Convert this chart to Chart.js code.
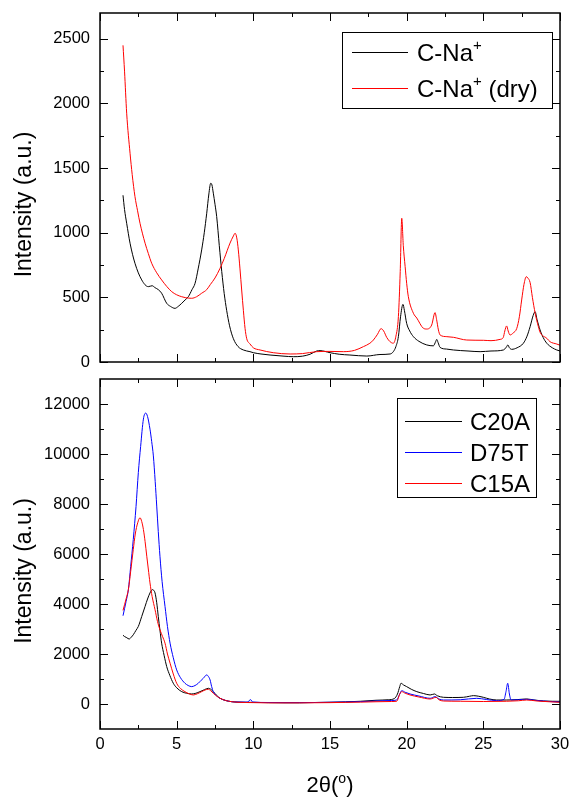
<!DOCTYPE html>
<html><head><meta charset="utf-8">
<script src="https://cdn.jsdelivr.net/npm/chart.js@4/dist/chart.umd.min.js"></script>
<style>
html,body{margin:0;padding:0;background:#fff;}
#wrap{position:relative;width:569px;height:797px;overflow:hidden;}
#c1{position:absolute;left:0;top:0;}
#c2{position:absolute;left:0;top:370px;}
</style></head><body>
<div id="wrap">
<canvas id="c1" width="569" height="370"></canvas>
<canvas id="c2" width="569" height="427"></canvas>
</div>
<script>
// ---------- Data: top panel ----------
const cnaX = [1.5,1.6,1.74,1.96,2.28,2.72,3.15,3.4,3.59,3.8,4.02,4.35,4.6,4.89,5.1,5.33,5.55,5.76,6.0,6.2,6.4,6.63,6.8,6.96,7.1,7.22,7.3,7.39,7.5,7.61,7.78,7.94,8.1,8.26,8.45,8.7,9.0,9.35,9.78,10.0,10.5,11.09,12.0,12.6,13.2,13.7,14.13,14.35,15.0,15.6,16.3,17.4,18.26,18.92,19.13,19.3,19.46,19.6,19.76,19.85,20.0,20.2,20.44,20.8,21.31,21.74,21.9,21.96,22.05,22.18,22.6,23.05,24.0,24.79,25.5,26.31,26.5,26.6,26.7,26.85,27.2,27.61,27.85,28.05,28.25,28.38,28.5,28.7,28.9,29.14,29.5,29.79,30.0];
const cnaY = [1290,1180,1073,919,764,635,583,590,575,560,532,454,430,415,430,454,480,505,560,609,720,867,1000,1151,1300,1383,1370,1306,1220,1125,900,700,530,400,280,180,120,93,80,72,62,54,45,41,45,60,85,88,72,60,54,46,58,62,80,120,196,350,446,400,299,240,196,160,132,125,160,175,150,113,100,93,85,80,85,93,115,132,110,98,110,145,200,273,360,389,330,248,190,145,110,93,85];
const cnaDryX = [1.5,1.6,1.74,1.96,2.1,2.28,2.45,2.61,2.94,3.15,3.37,3.7,4.02,4.35,4.68,5.0,5.33,5.6,5.98,6.3,6.63,6.96,7.2,7.5,7.83,8.1,8.48,8.7,8.81,8.92,9.02,9.13,9.24,9.35,9.46,9.57,9.78,10.0,10.44,11.3,12.4,13.2,14.13,15.0,15.87,16.6,17.18,17.6,17.83,18.1,18.33,18.5,18.7,18.92,19.13,19.3,19.46,19.58,19.68,19.78,19.9,20.0,20.11,20.44,20.66,21.09,21.31,21.63,21.85,21.95,22.07,22.18,22.62,23.05,23.92,25.0,25.5,26.09,26.3,26.4,26.52,26.62,26.74,26.95,27.18,27.35,27.5,27.65,27.8,27.9,28.05,28.2,28.38,28.59,28.7,29.14,29.35,29.79,30.0];
const cnaDryY = [2450,2250,1925,1615,1450,1280,1170,1073,919,840,764,690,635,585,544,520,505,497,493,505,532,560,600,650,725,800,920,975,996,960,867,720,557,400,260,180,140,110,93,72,62,65,80,82,80,90,119,145,170,215,258,240,190,157,145,200,351,700,1112,900,738,609,505,377,340,261,255,286,382,330,248,209,196,191,170,168,165,175,190,240,279,240,209,225,260,350,480,600,660,650,615,500,377,273,230,183,157,139,130];

// ---------- Data: bottom panel ----------
const c20aX = [1.5,1.6,1.75,1.9,2.05,2.17,2.35,2.5,2.72,2.94,3.1,3.26,3.41,3.5,3.59,3.7,3.8,3.91,4.02,4.18,4.35,4.55,4.78,5.0,5.33,5.65,5.98,6.25,6.52,6.8,7.07,7.2,7.39,7.6,7.83,8.2,8.59,9.0,10,11,12,13,14,15,16,17,18,18.8,19.2,19.4,19.55,19.63,19.8,20.0,20.3,20.66,21.1,21.53,21.81,22.0,22.4,23.0,23.7,24.1,24.35,24.7,25.0,25.4,25.87,26.52,27.2,27.83,28.3,28.92,29.5,30.0];
const c20aY = [2750,2700,2650,2600,2680,2769,2950,3103,3500,3905,4200,4442,4575,4550,4442,4050,3503,2950,2434,1950,1497,1150,830,650,494,430,401,430,494,570,629,600,494,350,228,140,92,75,65,55,50,50,60,70,85,110,150,170,220,400,700,830,760,695,590,494,420,361,401,330,268,260,268,310,334,310,268,200,160,160,175,201,160,120,110,107];
const d75tX = [1.5,1.7,1.85,2.0,2.17,2.35,2.5,2.65,2.83,2.98,3.1,3.26,3.37,3.48,3.6,3.7,3.8,3.91,4.05,4.24,4.4,4.57,4.78,5.0,5.25,5.54,5.75,5.98,6.2,6.41,6.6,6.74,6.96,7.07,7.18,7.28,7.39,7.6,7.83,8.2,8.59,9.0,9.6,9.83,9.95,11,12,13,14,15,16,17,18,19.0,19.35,19.55,19.68,19.9,20.22,20.8,21.53,21.85,22.1,22.4,23.5,24.57,25.2,25.87,26.35,26.48,26.59,26.7,26.81,27.3,27.83,28.5,29.3,30.0];
const d75tY = [3531,4100,4575,5500,6581,7900,9258,10300,11396,11637,11500,10995,10500,9923,8900,7917,6900,5911,4900,3904,3100,2434,1850,1364,1050,830,740,695,740,830,950,1030,1164,1100,963,700,494,330,228,140,92,80,75,173,80,60,55,55,60,70,80,95,120,140,160,400,535,470,401,320,228,294,200,160,170,228,180,134,187,500,830,400,160,170,187,140,100,80];
const c15aX = [1.5,1.7,1.85,2.0,2.17,2.3,2.46,2.61,2.72,2.83,2.94,3.05,3.15,3.26,3.4,3.59,3.75,3.91,4.08,4.24,4.4,4.57,4.78,5.0,5.25,5.54,5.8,6.09,6.35,6.63,6.85,7.07,7.22,7.39,7.6,7.83,8.2,8.59,9,10,11,12,13,14,15,16,17,18,19.0,19.35,19.55,19.68,19.9,20.22,20.8,21.53,21.92,22.1,22.4,23.5,25,26.5,27.3,27.83,28.5,29.3,30.0];
const c15aY = [3745,4200,4575,5300,6180,6800,7250,7450,7300,6982,6500,5911,5400,4843,4300,3772,3300,2970,2700,2434,2000,1633,1200,830,620,494,410,361,410,494,560,589,530,428,320,228,140,92,70,55,45,45,45,50,55,65,75,90,100,110,400,494,430,361,280,200,267,170,120,110,100,110,130,160,120,90,67];

// ---------- Axes / ticks ----------
const xTicks = [0,5,10,15,20,25,30];
const xMinor = [2.5,7.5,12.5,17.5,22.5,27.5];
const yTopTicks = [0,500,1000,1500,2000,2500];
const yTopMinor = [250,750,1250,1750,2250];
const yBotTicks = [0,2000,4000,6000,8000,10000,12000];
const yBotMinor = [1000,3000,5000,7000,9000,11000];

const FONT = '"Liberation Sans", Arial, Helvetica, sans-serif';
const pts = (xs, ys) => xs.map((x, i) => ({x, y: ys[i]}));

function drawRich(ctx, text, x, y, size, align) {
  const parts = [];
  let buf = '';
  for (const ch of text) {
    if (ch === '⁺' || ch === 'ᵒ') {
      if (buf) parts.push({t: buf, sup: false});
      parts.push({t: ch === '⁺' ? '+' : 'o', sup: true});
      buf = '';
    } else buf += ch;
  }
  if (buf) parts.push({t: buf, sup: false});
  const supSize = Math.round(size * 0.62);
  let w = 0;
  for (const p of parts) {
    ctx.font = (p.sup ? supSize : size) + 'px ' + FONT;
    p.w = ctx.measureText(p.t).width;
    w += p.w;
  }
  let cx = align === 'center' ? x - w / 2 : x;
  ctx.textBaseline = 'alphabetic';
  ctx.textAlign = 'left';
  for (const p of parts) {
    ctx.font = (p.sup ? supSize : size) + 'px ' + FONT;
    ctx.fillText(p.t, cx, p.sup ? y - size * 0.42 : y);
    cx += p.w;
  }
}

function decoPlugin(cfg) {
  return {
    id: 'deco',
    afterDraw(chart) {
      const {ctx, chartArea: a, scales} = chart;
      const xs = scales.x, ys = scales.y;
      ctx.save();
      ctx.strokeStyle = '#000';
      ctx.lineWidth = 1;
      ctx.beginPath();
      const xt = (vals, len) => vals.forEach(v => {
        const p = Math.round(xs.getPixelForValue(v)) + 0.5;
        ctx.moveTo(p, a.bottom); ctx.lineTo(p, a.bottom - len);
        ctx.moveTo(p, a.top); ctx.lineTo(p, a.top + len);
      });
      const yt = (vals, len) => vals.forEach(v => {
        const p = Math.round(ys.getPixelForValue(v)) + 0.5;
        ctx.moveTo(a.left, p); ctx.lineTo(a.left + len, p);
        ctx.moveTo(a.right, p); ctx.lineTo(a.right - len, p);
      });
      xt(xTicks, 8); xt(xMinor, 4);
      yt(cfg.yMajor, 8); yt(cfg.yMinor, 4);
      ctx.stroke();
      ctx.lineWidth = 1.5;
      ctx.strokeRect(a.left, a.top, a.right - a.left, a.bottom - a.top);

      // y title
      ctx.fillStyle = '#000';
      ctx.save();
      ctx.translate(25, (a.top + a.bottom) / 2 + 17);
      ctx.rotate(-Math.PI / 2);
      ctx.font = '23px ' + FONT;
      ctx.textAlign = 'center';
      ctx.textBaseline = 'middle';
      ctx.fillText('Intensity (a.u.)', 0, 0);
      ctx.restore();

      // x title
      if (cfg.xTitle) {
        drawRich(ctx, cfg.xTitle, (a.left + a.right) / 2, cfg.xTitleY, 22, 'center');
      }

      // legend
      const L = cfg.legend;
      ctx.lineWidth = 1;
      ctx.strokeRect(L.left + 0.5, L.top + 0.5, L.right - L.left, L.bottom - L.top);
      const ds = chart.data.datasets;
      L.order.forEach((di, i) => {
        const d = ds[di];
        const y = L.firstY + i * L.step;
        ctx.strokeStyle = d.borderColor;
        ctx.lineWidth = 1.2;
        ctx.beginPath();
        ctx.moveTo(L.lineX1, y + 0.5); ctx.lineTo(L.lineX2, y + 0.5);
        ctx.stroke();
        ctx.fillStyle = '#000';
        drawRich(ctx, d.label, L.textX, y + 8.5, L.size, 'left');
      });
      ctx.restore();
    }
  };
}

function fixTicks(vals) {
  return function (scale) { scale.ticks = vals.map(v => ({value: v})); };
}
const plainLabel = v => String(v);
function yFit(s) { s.width = 100; s.paddingTop = 0; s.paddingBottom = 0; }
function xFit(h) { return s => { s.height = h; s.paddingLeft = 0; s.paddingRight = 0; }; }

// ---------- Top chart ----------
new Chart(document.getElementById('c1'), {
  type: 'line',
  data: {
    datasets: [
      {label: 'C-Na⁺', data: pts(cnaX, cnaY), borderColor: '#000000', order: 1},
      {label: 'C-Na⁺ (dry)', data: pts(cnaDryX, cnaDryY), borderColor: '#ff0000', order: 0}
    ]
  },
  options: {
    responsive: false, animation: false,
    layout: {padding: {top: 13, right: 9, left: 0, bottom: 0}},
    elements: {point: {radius: 0}, line: {borderWidth: 1, cubicInterpolationMode: 'monotone'}},
    plugins: {legend: {display: false}, tooltip: {enabled: false}},
    scales: {
      x: {type: 'linear', min: 0, max: 30,
          afterBuildTicks: fixTicks(xTicks),
          afterFit: xFit(8),
          ticks: {display: false}, grid: {display: false}, border: {display: false}},
      y: {type: 'linear', min: 0, max: 2700,
          afterBuildTicks: fixTicks(yTopTicks),
          afterFit: yFit,
          ticks: {padding: 10, color: '#000', callback: plainLabel, font: {family: FONT, size: 16.5}},
          grid: {display: false, drawTicks: false}, border: {display: false}}
    }
  },
  plugins: [decoPlugin({
    yMajor: yTopTicks, yMinor: yTopMinor,
    legend: {left: 342, top: 32, right: 552, bottom: 108, firstY: 52, step: 36,
             lineX1: 352, lineX2: 408, textX: 417, size: 24, order: [0, 1]}
  })]
});

// ---------- Bottom chart ----------
new Chart(document.getElementById('c2'), {
  type: 'line',
  data: {
    datasets: [
      {label: 'C20A', data: pts(c20aX, c20aY), borderColor: '#000000', order: 2},
      {label: 'D75T', data: pts(d75tX, d75tY), borderColor: '#0000ff', order: 1},
      {label: 'C15A', data: pts(c15aX, c15aY), borderColor: '#ff0000', order: 0}
    ]
  },
  options: {
    responsive: false, animation: false,
    layout: {padding: {top: 9, right: 9, left: 0, bottom: 0}},
    elements: {point: {radius: 0}, line: {borderWidth: 1, cubicInterpolationMode: 'monotone'}},
    plugins: {legend: {display: false}, tooltip: {enabled: false}},
    scales: {
      x: {type: 'linear', min: 0, max: 30,
          afterBuildTicks: fixTicks(xTicks),
          afterFit: xFit(68),
          ticks: {padding: 6, color: '#000', maxRotation: 0, callback: plainLabel, font: {family: FONT, size: 16.5}},
          grid: {display: false, drawTicks: false}, border: {display: false}},
      y: {type: 'linear', min: -1000, max: 13000,
          afterBuildTicks: fixTicks(yBotTicks),
          afterFit: yFit,
          ticks: {padding: 10, color: '#000', callback: plainLabel, font: {family: FONT, size: 16.5}},
          grid: {display: false, drawTicks: false}, border: {display: false}}
    }
  },
  plugins: [decoPlugin({
    yMajor: yBotTicks, yMinor: yBotMinor,
    xTitle: '2θ(ᵒ)', xTitleY: 422,
    legend: {left: 397, top: 28, right: 536, bottom: 127, firstY: 51, step: 31,
             lineX1: 405, lineX2: 462, textX: 470, size: 24, order: [0, 1, 2]}
  })]
});
</script>
</body></html>
